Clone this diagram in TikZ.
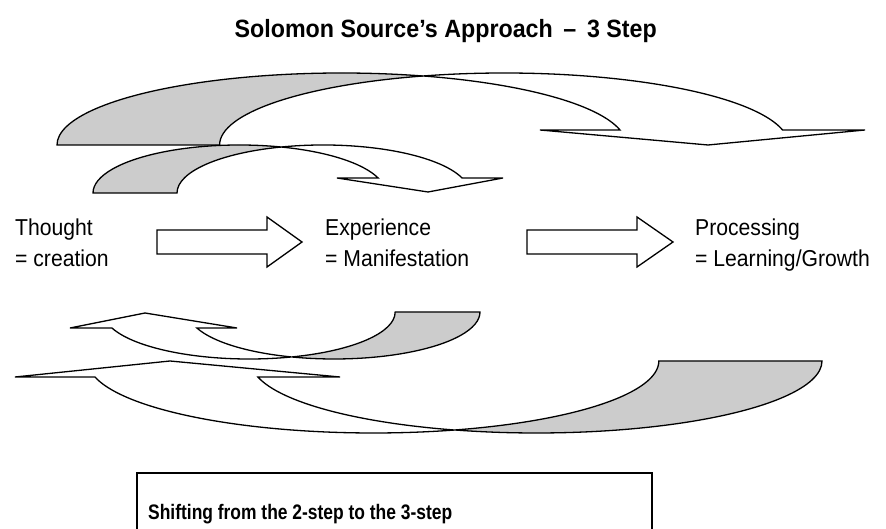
\documentclass[tikz,border=0pt]{standalone}
\usepackage{fontspec}
\setmainfont{Liberation Sans}
\newfontfamily\labelfont[FakeStretch=0.92]{Liberation Sans}
\newfontfamily\titlefont[FakeStretch=0.93]{Liberation Sans}
\newfontfamily\capfont[FakeStretch=0.83]{Liberation Sans}
\usetikzlibrary{calc}

\definecolor{bandgray}{HTML}{CCCCCC}

\tikzset{
  outline/.style={draw=black, line width=1.3pt, line join=miter},
  backband/.style={outline, fill=bandgray},
  frontband/.style={outline, fill=white},
  blockarrow/.style={outline, fill=white},
  label/.style={inner sep=0pt, anchor=base west, font=\labelfont\fontsize{23}{27}\selectfont},
}

\begin{document}
\begin{tikzpicture}[x=1pt, y=1pt]
\useasboundingbox (0,0) rectangle (886,529);

% title
\node[inner sep=0pt, anchor=base east, font=\titlefont\bfseries\fontsize{25}{30}\selectfont] (title) at (657,491)
  {Solomon Source’s Approach \,–\, 3 Step};

% ---- large arc over the top: Thought -> Processing ----
\coordinate (t1i) at ($(341.6,384)+(73.4:284.6 and 72)$);
\draw[backband] (57,384) arc[start angle=180, end angle=73.4, x radius=284.6, y radius=72]
  arc[start angle=106.6, end angle=180, x radius=284.6, y radius=72] -- cycle;
\draw[frontband] (t1i) arc[start angle=106.6, end angle=12, x radius=284.6, y radius=72]
  -- (865,399) -- (708,384) -- (540,399) -- (620,399)
  arc[start angle=12, end angle=73.4, x radius=284.6, y radius=72] -- cycle;

% ---- small arc over the top: Thought -> Experience ----
\coordinate (t2i) at ($(239.2,336)+(73.3:146.2 and 48)$);
\draw[backband] (93,336) arc[start angle=180, end angle=73.3, x radius=146.2, y radius=48]
  arc[start angle=106.7, end angle=180, x radius=146.2, y radius=48] -- cycle;
\draw[frontband] (t2i) arc[start angle=106.7, end angle=18.2, x radius=146.2, y radius=48]
  -- (503,351) -- (428,337) -- (337,351) -- (378.1,351)
  arc[start angle=18.2, end angle=73.3, x radius=146.2, y radius=48] -- cycle;

% ---- small arc underneath: back towards Thought ----
\coordinate (b3i) at ($(249.1,217)+(-73.1:145.9 and 47)$);
\draw[backband] (480,217) arc[start angle=0, end angle=-106.9, x radius=145.9, y radius=47]
  arc[start angle=-73.1, end angle=0, x radius=145.9, y radius=47] -- cycle;
\draw[frontband] (b3i) arc[start angle=-73.1, end angle=-160.1, x radius=145.9, y radius=47]
  -- (70,201) -- (145,216) -- (237,201) -- (196.9,201)
  arc[start angle=-160.1, end angle=-106.9, x radius=145.9, y radius=47] -- cycle;

% ---- large arc underneath: back towards Thought ----
\coordinate (b4i) at ($(373.4,168)+(-73.4:285.6 and 72)$);
\draw[backband] (822,168) arc[start angle=0, end angle=-106.6, x radius=285.6, y radius=72]
  arc[start angle=-73.4, end angle=0, x radius=285.6, y radius=72] -- cycle;
\draw[frontband] (b4i) arc[start angle=-73.4, end angle=-167.2, x radius=285.6, y radius=72]
  -- (15,152) -- (170,168) -- (340,152) -- (257.9,152)
  arc[start angle=-167.2, end angle=-106.6, x radius=285.6, y radius=72] -- cycle;

% ---- the three stages ----
\node[label] (thought)  at (15,293) {Thought};
\node[label] (thoughtq) at (15,262) {= creation};
\node[label] (exper)    at (325,293) {Experience};
\node[label] (experq)   at (325,262) {= Manifestation};
\node[label] (proc)     at (695,293) {Processing};
\node[label] (procq)    at (695,262) {= Learning/Growth};

% block arrows between the stages
\draw[blockarrow] (157,299) -- (267,299) -- (267,312) -- (302,287) -- (267,262)
  -- (267,275) -- (157,275) -- cycle;
\draw[blockarrow] (527,299) -- (637,299) -- (637,312) -- (673,287) -- (637,262)
  -- (637,275) -- (527,275) -- cycle;

% caption box
\draw[outline] (137,56) rectangle (652,-20);
\node[inner sep=0pt, anchor=base west, font=\capfont\bfseries\fontsize{21}{25}\selectfont] (caption) at (148,9)
  {Shifting from the 2-step to the 3-step};
\end{tikzpicture}
\end{document}
